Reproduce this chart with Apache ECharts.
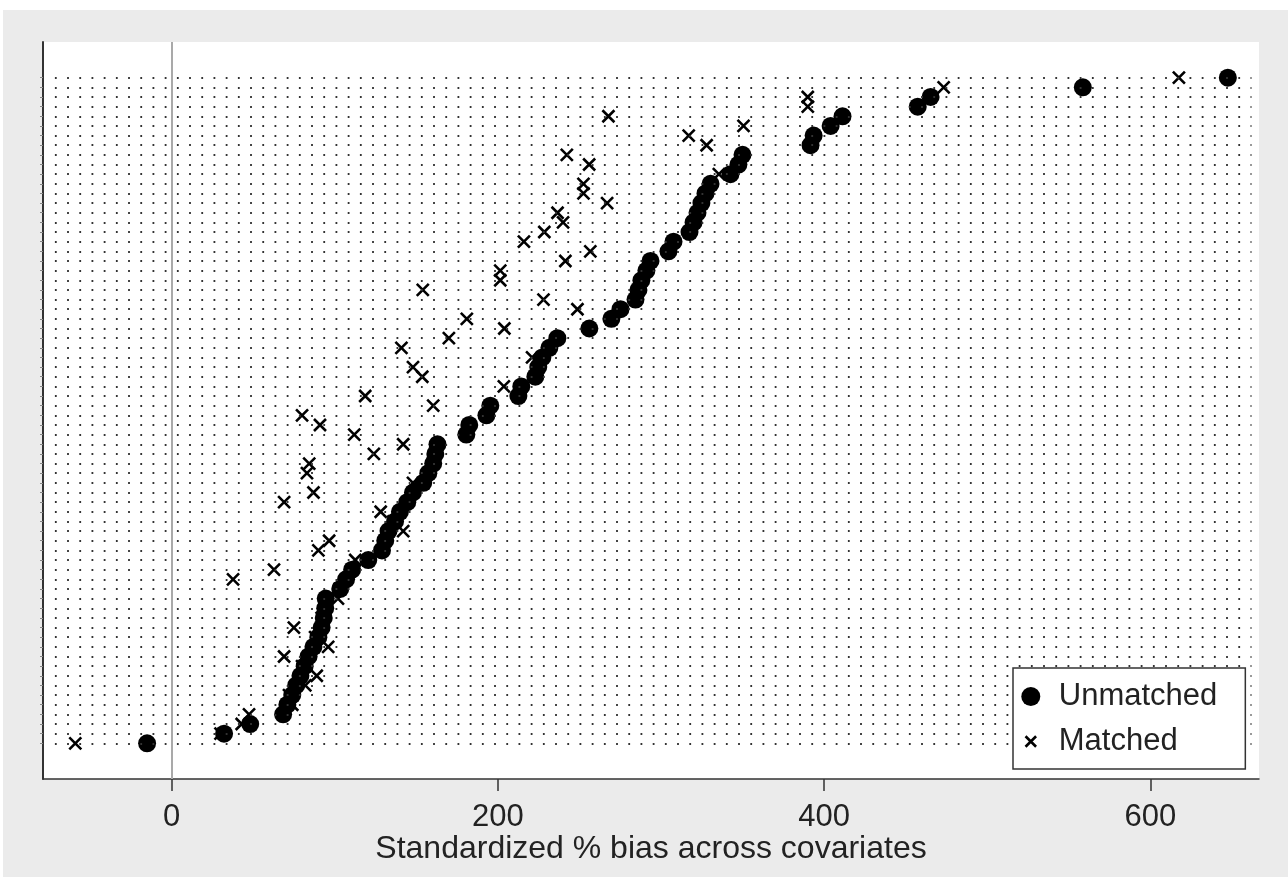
<!DOCTYPE html>
<html>
<head>
<meta charset="utf-8">
<script src="https://cdn.jsdelivr.net/npm/echarts@6/dist/echarts.min.js"></script>
<style>
html,body{margin:0;padding:0;background:#fff;}
#c{position:absolute;left:3px;top:10px;width:1285px;height:867px;}
</style>
</head>
<body>
<div id="c"></div>
<script>
// Standardized % bias per covariate, ordered by unmatched bias (bottom row first)
const unmatched = [-15, 32.2, 48.2, 68.4, 71, 74, 76.4, 79, 81.6, 84,
  87, 90, 92, 93.3, 94.2, 94.5, 103.4, 107, 110.7, 120.6,
  129, 131, 133, 137, 140, 144.5, 148, 154.3, 157.4, 160.4,
  161.7, 163, 180.7, 182.5, 193, 195.4, 212.6, 214.4, 223, 224.8,
  227.3, 231.6, 236.5, 256.1, 269.6, 275.2, 284.4, 286.2, 288, 291.1,
  293.6, 304.6, 307.7, 317.5, 320, 322.4, 324.8, 327.3, 330.4, 342.6,
  347.5, 350, 391.7, 393.6, 404, 411.3, 457.4, 465.3, 558.6, 647.5];
const matched = [-59, 30, 43, 47.5, 74, 72, 82, 89, 80, 69,
  96, 88, 75, 92, 94, 102, 103, 37.7, 62.8, 112.6,
  90, 96.6, 142, 136, 128.2, 69, 87, 148, 83, 84.4,
  124, 142, 112, 91, 80, 160.4, 118.7, 203.7, 153.7, 148,
  221, 140.9, 170, 204, 181, 248.8, 228, 154, 201.5, 201.5,
  241.4, 256.7, 216, 228.5, 240, 236.6, 267, 252.5, 252.5, 335.5,
  256, 242.3, 328, 317, 350.6, 267.8, 390, 390, 473.3, 617.5];
const xTicks = [0, 200, 400, 600];
const seriesNames = ['Unmatched', 'Matched'];
const xTitle = 'Standardized % bias across covariates';

const rows = unmatched.map((v, i) => i);
const FONT = '"Liberation Sans", Arial, sans-serif';
const xPath = 'path://M0,0L10,10M10,0L0,10';
const xPathLegend = 'path://M-4,-4M0,0L10,10M10,0L0,10M14,14';

const chart = echarts.init(document.getElementById('c'));
chart.setOption({
  animation: false,
  backgroundColor: '#ebebeb',
  textStyle: {fontFamily: FONT},
  grid: {left: 40, top: 32, right: 29, bottom: 98, show: true, backgroundColor: '#ffffff', borderWidth: 0},
  xAxis: {
    type: 'value', min: -78.8, max: 666.6,
    axisLine: {show: true, onZero: false, lineStyle: {color: '#333', width: 1.5}},
    axisTick: {show: true, length: 12, customValues: xTicks, lineStyle: {color: '#333', width: 1.5}},
    axisLabel: {customValues: xTicks, fontSize: 31, color: '#222', margin: 23, fontFamily: FONT},
    splitLine: {show: false},
    name: xTitle, nameLocation: 'middle', nameGap: 54, nameMoveOverlap: false,
    nameTextStyle: {fontSize: 32, color: '#222', fontFamily: FONT}
  },
  yAxis: {
    type: 'value', min: -3.7, max: 72.7,
    axisLine: {show: true, onZero: false, lineStyle: {color: '#333', width: 2}},
    axisTick: {show: true, length: 3, customValues: rows, lineStyle: {color: '#888', width: 1}},
    axisLabel: {show: false},
    splitLine: {show: false}
  },
  legend: {
    z: 100,
    orient: 'vertical', left: 1010, top: 658,
    padding: [13, 28, 12, 7], itemGap: 14, itemWidth: 26, itemHeight: 19,
    backgroundColor: '#ffffff', borderColor: '#333', borderWidth: 1.5,
    textStyle: {fontSize: 31, lineHeight: 30, color: '#222', fontFamily: FONT, padding: [0, 0, 0, 10]},
    data: [
      {name: seriesNames[0], icon: 'circle', itemStyle: {color: '#000', opacity: 1, borderWidth: 0}},
      {name: seriesNames[1], icon: xPathLegend, itemStyle: {color: 'transparent', borderColor: '#000', borderWidth: 2.6, opacity: 1}}
    ]
  },
  series: [
    {
      name: 'grid', type: 'scatter', data: [], silent: true, z: 1,
      markLine: {
        silent: true, symbol: 'none', label: {show: false},
        lineStyle: {color: '#333', width: 1.8, type: [1.8, 10.4], opacity: 1},
        data: rows.map(r => [{coord: [-71.5, r]}, {coord: [662, r]}])
      }
    },
    {
      name: 'zero', type: 'scatter', data: [], silent: true, z: 1,
      markLine: {
        silent: true, symbol: 'none', label: {show: false},
        lineStyle: {color: '#a9a9a9', width: 2, type: 'solid', opacity: 1},
        data: [{xAxis: 0}]
      }
    },
    {
      name: seriesNames[1], type: 'scatter', z: 3,
      symbol: xPath, symbolSize: 12,
      itemStyle: {color: 'transparent', borderColor: '#000', borderWidth: 2.6, opacity: 1},
      data: matched.map((v, i) => [v, rows[i]])
    },
    {
      name: seriesNames[0], type: 'scatter', z: 4,
      symbol: 'circle', symbolSize: 18,
      itemStyle: {color: '#000', opacity: 1, borderWidth: 0},
      data: unmatched.map((v, i) => [v, rows[i]])
    }
  ]
});
</script>
</body>
</html>
